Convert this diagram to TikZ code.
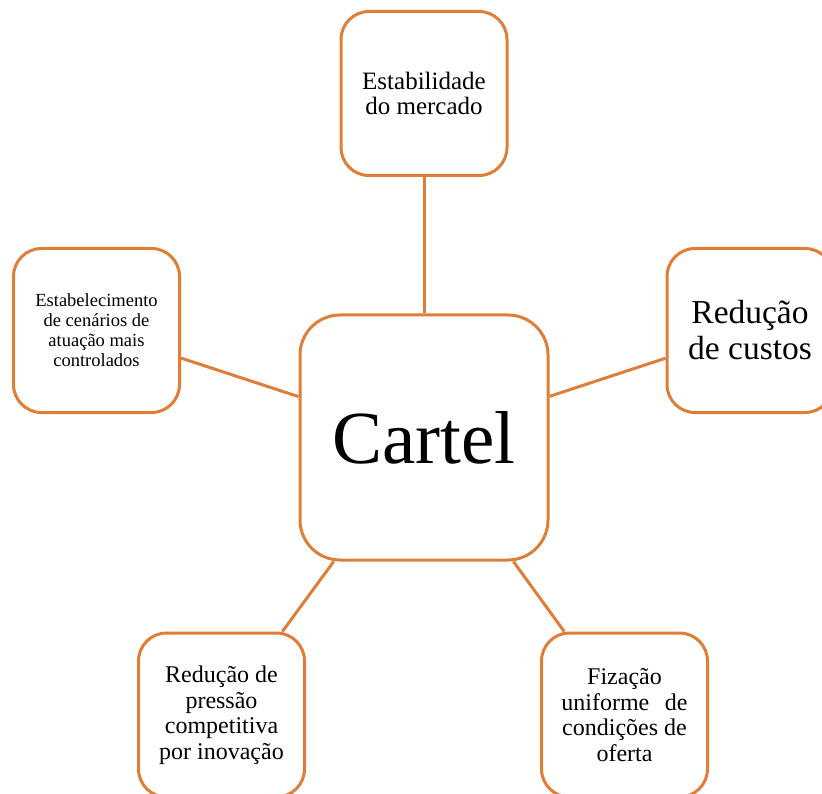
\documentclass[tikz,border=0pt]{standalone}
\usepackage{fontspec}
\setmainfont{Liberation Serif}
\definecolor{orng}{RGB}{224,125,55}
\begin{document}
\begin{tikzpicture}[x=1pt,y=-1pt,
  box/.style={draw=orng, line width=3pt, rounded corners=28pt, fill=white,
    minimum width=166pt, minimum height=164pt, inner sep=0pt, align=center},
  link/.style={draw=orng, line width=3pt}]
\useasboundingbox (0,0) rectangle (822,794);
\clip (0,0) rectangle (822,794);
\node[box, minimum width=248pt, minimum height=245pt, rounded corners=40pt,
  font=\fontsize{75}{80}\selectfont] (c) at (424,437.5) {Cartel};
\node[box, font=\fontsize{25}{25}\selectfont] (t) at (424,93.5) {Estabilidade\\do mercado};
\node[box, font=\fontsize{18.5}{20}\selectfont] (l) at (96.5,330.5) {Estabelecimento\\de cenários de\\atuação mais\\controlados};
\node[box, font=\fontsize{33.5}{36}\selectfont] (r) at (750,330.5) {Redução\\de custos};
\node[box, font=\fontsize{24}{25.5}\selectfont] (bl) at (221.5,715) {Redução de\\pressão\\competitiva\\por inovação};
\node[box, font=\fontsize{24}{25.5}\selectfont] (br) at (624.5,715) {Fização\\uniforme\hspace{0.4em} de\\condições de\\oferta};
\draw[link] (c) -- (t);
\draw[link] (c) -- (l);
\draw[link] (c) -- (r);
\draw[link] (c) -- (bl);
\draw[link] (c) -- (br);
\end{tikzpicture}
\end{document}
